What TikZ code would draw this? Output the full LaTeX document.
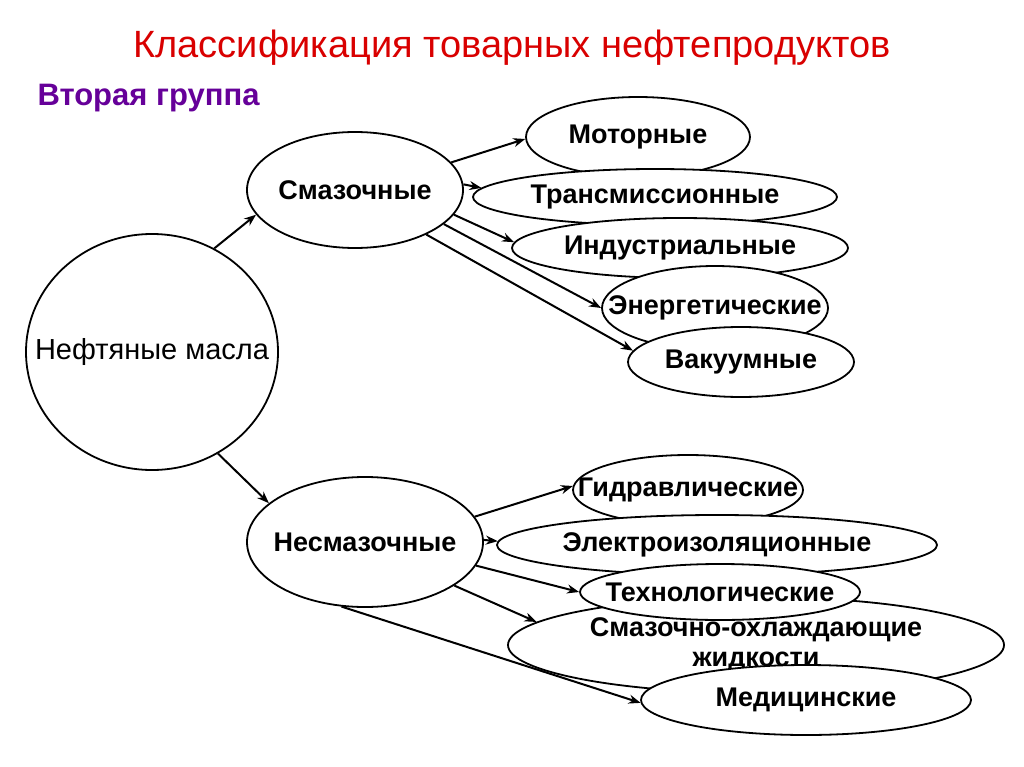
\documentclass[tikz,border=0pt]{standalone}
\usepackage{fontspec}
\setmainfont{Liberation Sans}
\usetikzlibrary{shapes.geometric,arrows.meta}
\begin{document}
\begin{tikzpicture}[x=1pt,y=-1pt,
 el/.style={ellipse,draw,line width=1.8pt,fill=white,inner sep=0pt},
 lb/.style={font=\fontsize{27}{30}\selectfont\bfseries,align=center,inner sep=0pt},
 arr/.style={-{Stealth[length=12pt,width=9pt]},line width=2pt}]
\useasboundingbox (0,0) rectangle (1024,767);
\fill[white] (0,0) rectangle (1024,767);
\node[font=\fontsize{38}{40}\selectfont,text=red!85!black] (t) at (512,48) {Классификация товарных нефтепродуктов};
\node[font=\fontsize{31}{33}\selectfont\bfseries,text=violet!80!blue,anchor=west] (g) at (34,98) {Вторая группа};
\node[el,minimum width=252pt,minimum height=236pt,label={[lb,font=\fontsize{29}{32}\selectfont]center:Нефтяные масла}] (m) at (152,352) {};
\node[el,minimum width=216pt,minimum height=116pt,label={[lb]center:Смазочные}] (s) at (355,190) {};
\node[el,minimum width=236pt,minimum height=130pt,label={[lb]center:Несмазочные}] (n) at (365,542) {};
\node[el,minimum width=224pt,minimum height=80pt,label={[lb]center:Моторные}] (a1) at (638,137) {};
\node[el,minimum width=364pt,minimum height=56pt,label={[lb]center:Трансмиссионные}] (a2) at (655,197) {};
\node[el,minimum width=336pt,minimum height=60pt,label={[lb]center:Индустриальные}] (a3) at (680,248) {};
\node[el,minimum width=226pt,minimum height=84pt,label={[lb]center:Энергетические}] (a4) at (715,308) {};
\node[el,minimum width=226pt,minimum height=70pt,label={[lb]center:Вакуумные}] (a5) at (741,362) {};
\node[el,minimum width=230pt,minimum height=70pt,label={[lb]center:Гидравлические}] (b1) at (688,490) {};
\node[el,minimum width=440pt,minimum height=60pt,label={[lb]center:Электроизоляционные}] (b2) at (717,545) {};
\node[el,minimum width=496pt,minimum height=96pt,label={[lb]center:{Смазочно-охлаждающие\\жидкости}}] (b4) at (756,645) {};
\node[el,minimum width=280pt,minimum height=56pt,label={[lb]center:Технологические}] (b3) at (720,592) {};
\node[el,minimum width=330pt,minimum height=70pt,label={[lb]center:Медицинские}] (b5) at (806,700) {};
\draw[arr] (m.59) -- (s.194);
\draw[arr] (m.-57) -- (n.158);
\draw[arr] (s.16) -- (a1.181);
\draw[arr] (s.3) -- (a2.177);
\draw[arr] (s.-14) -- (a3.178);
\draw[arr] (s.-21) -- (a4.180);
\draw[arr] (s.-32) -- (a5.174);
\draw[arr] (n.13) -- (b1.178);
\draw[arr] (n.1) -- (b2.179);
\draw[arr] (n.-12) -- (b3.180);
\draw[arr] (n.-26) -- (b4.174);
\draw[arr] (n.250) -- (b5.181);
\end{tikzpicture}
\end{document}
